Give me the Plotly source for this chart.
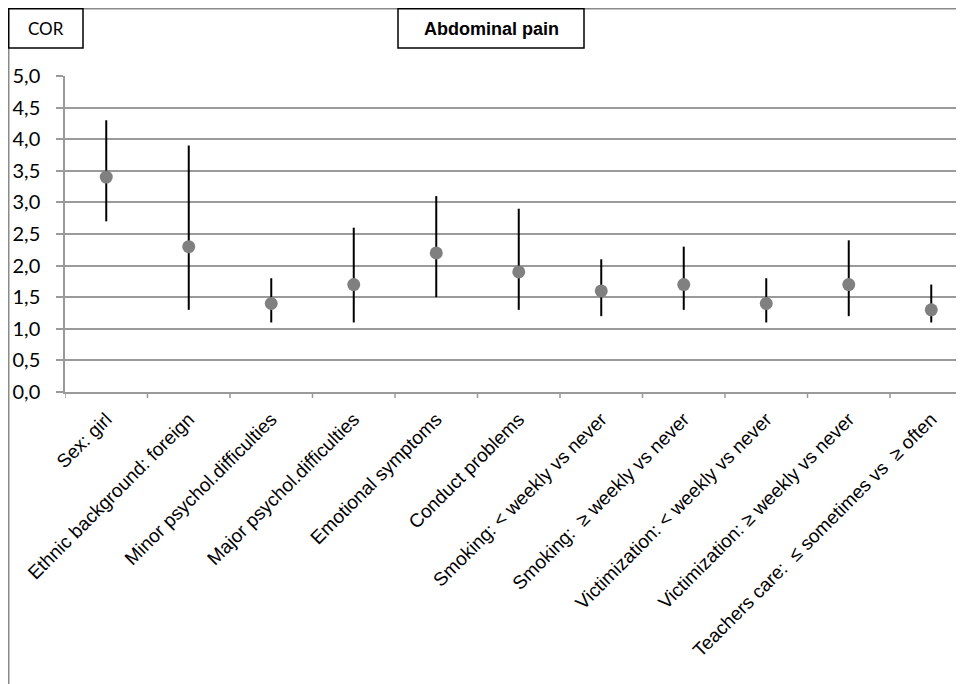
import plotly.graph_objects as go

categories = [
    "Sex: girl",
    "Ethnic background: foreign",
    "Minor psychol.difficulties",
    "Major psychol.difficulties",
    "Emotional symptoms",
    "Conduct problems",
    "Smoking: < weekly vs never",
    "Smoking:  \u2265 weekly vs never",
    "Victimization: < weekly vs never",
    "Victimization: \u2265 weekly vs never",
    "Teachers care:  \u2264 sometimes vs  \u2265 often",
]
cor = [3.4, 2.3, 1.4, 1.7, 2.2, 1.9, 1.6, 1.7, 1.4, 1.7, 1.3]
ci_low = [2.7, 1.3, 1.1, 1.1, 1.5, 1.3, 1.2, 1.3, 1.1, 1.2, 1.1]
ci_high = [4.3, 3.9, 1.8, 2.6, 3.1, 2.9, 2.1, 2.3, 1.8, 2.4, 1.7]
y_ticks = [0, 0.5, 1, 1.5, 2, 2.5, 3, 3.5, 4, 4.5, 5]

# page is offset by the 8px body margin; work in page coordinates
OFF = 8
W, H = 964, 684
L, R, T, B = 65 - OFF, 0, 76 - OFF, H - (392 - OFF)
PW, PH = W - L - R, H - T - B


def px(x):
    return (x - OFF - L) / PW


def py(y):
    return (H - B - (y - OFF)) / PH


xi = list(range(len(categories)))
fig = go.Figure(
    go.Scatter(
        x=xi,
        y=cor,
        mode="markers",
        marker=dict(size=13, color="#808080"),
        error_y=dict(
            type="data",
            symmetric=False,
            array=[h - c for h, c in zip(ci_high, cor)],
            arrayminus=[c - l for c, l in zip(cor, ci_low)],
            width=0,
            thickness=2,
            color="#000000",
        ),
        showlegend=False,
        cliponaxis=False,
    )
)

grid = "#9a9a9a"
fig.update_layout(
    width=W,
    height=H,
    margin=dict(l=L, r=R, t=T, b=B, pad=0),
    paper_bgcolor="white",
    plot_bgcolor="white",
    separators=",.",
    xaxis=dict(
        range=[-0.5, -0.5 + PW / 82.5],
        tickmode="array",
        tickvals=xi,
        ticktext=categories,
        tickangle=-45,
        showgrid=False,
        showline=True,
        linecolor=grid,
        linewidth=1.5,
        ticks="",
        ticklabelstandoff=7,
        tickfont=dict(family="Liberation Sans, Arial", size=19, color="black"),
        zeroline=False,
    ),
    yaxis=dict(
        range=[0, 5],
        tickmode="array",
        tickvals=y_ticks,
        tickformat=".1f",
        showgrid=True,
        gridcolor=grid,
        gridwidth=1.5,
        showline=True,
        linecolor=grid,
        linewidth=1.5,
        ticks="outside",
        ticklen=7,
        tickcolor=grid,
        tickwidth=1.5,
        ticklabelstandoff=12,
        tickfont=dict(family="Lato", size=20, color="black"),
        zeroline=False,
    ),
)

shapes = []
# category separator ticks below the x axis
for k in range(len(categories) + 1):
    shapes.append(dict(type="line", xref="x", yref="paper", x0=k - 0.5, x1=k - 0.5,
                       y0=0, y1=py(392 + 6), line=dict(color=grid, width=1.5)))
# outer frame (top and left)
shapes.append(dict(type="line", xref="paper", yref="paper", x0=px(8.75), x1=px(W + 20),
                   y0=py(8.75), y1=py(8.75), line=dict(color="#8a8a8a", width=1.5)))
shapes.append(dict(type="line", xref="paper", yref="paper", x0=px(8.75), x1=px(8.75),
                   y0=py(8.75), y1=py(H + 20), line=dict(color="#8a8a8a", width=1.5)))
# COR box
shapes.append(dict(type="rect", xref="paper", yref="paper", x0=px(8.75), x1=px(83),
                   y0=py(48), y1=py(8.75), line=dict(color="black", width=1.5), fillcolor="white"))
# Title box
shapes.append(dict(type="rect", xref="paper", yref="paper", x0=px(398), x1=px(584),
                   y0=py(48), y1=py(8.75), line=dict(color="black", width=1.5), fillcolor="white"))
fig.update_layout(shapes=shapes)

fig.add_annotation(xref="paper", yref="paper", x=px(45.5), y=py(28), text="COR",
                   showarrow=False, xanchor="center", yanchor="middle",
                   font=dict(family="Lato", size=17, color="black"))
fig.add_annotation(xref="paper", yref="paper", x=px(491), y=py(29), text="<b>Abdominal pain</b>",
                   showarrow=False, xanchor="center", yanchor="middle",
                   font=dict(family="Liberation Sans, Arial", size=18, color="black"))

fig.write_html("out.html")
